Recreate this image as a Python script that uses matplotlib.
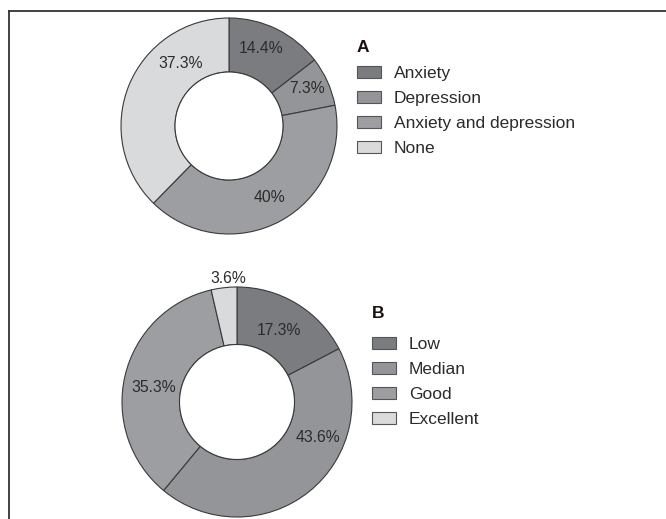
import numpy as np
import matplotlib
matplotlib.use('Agg')
import matplotlib.pyplot as plt
from matplotlib.lines import Line2D

plt.rcParams['font.family'] = ['Liberation Sans', 'DejaVu Sans']

# Panel A
labels_a = ['Anxiety', 'Depression', 'Anxiety and depression', 'None']
values_a = [14.4, 7.3, 40, 37.3]
pct_a = ['14.4%', '7.3%', '40%', '37.3%']

# Panel B
labels_b = ['Low', 'Median', 'Good', 'Excellent']
values_b = [17.3, 43.6, 35.3, 3.6]
pct_b = ['17.3%', '43.6%', '35.3%', '3.6%']

colors = ['#7b7c7f', '#949598', '#9d9ea1', '#d9dadc']
edge = '#3a3a3a'
txt = '#2b2b2b'

W, H = 666, 519
fig = plt.figure(figsize=(W / 100, H / 100), dpi=100)


def px_axes(cx, cy, half):
    return fig.add_axes([(cx - half) / W, (H - cy - half) / H, 2 * half / W, 2 * half / H])


def donut(ax, values, pcts, R, half, label_pos):
    wedges, _ = ax.pie(values, colors=colors, startangle=90, counterclock=False,
                       radius=1, wedgeprops=dict(width=0.5, edgecolor=edge, linewidth=0.8))
    # inner hole outline
    ax.add_patch(plt.Circle((0, 0), 0.5, facecolor='white', edgecolor=edge, linewidth=0.8))
    lim = half / R
    ax.set_xlim(-lim, lim)
    ax.set_ylim(-lim, lim)
    ax.set_aspect('equal')
    ax.axis('off')
    for p, (ang, r) in zip(pcts, label_pos):
        a = np.deg2rad(ang)
        ax.text(r * np.cos(a), r * np.sin(a), p, ha='center', va='center',
                fontsize=11.3, color=txt)
    return wedges


# label placement (angle in degrees, radius relative to outer radius)
pos_a = [(67.7, 0.78), (25.4, 0.8), (-60.6, 0.76), (128, 0.73)]
pos_b = [(59.7, 0.72), (-23.4, 0.77), (170, 0.74), (94, 1.08)]

axA = px_axes(229, 126, 125)
wa = donut(axA, values_a, pct_a, 108, 125, pos_a)
axB = px_axes(237, 402, 125)
wb = donut(axB, values_b, pct_b, 115, 125, pos_b)


def legend(handles, labels, title, x, ty, y):
    fig.text(x / W, 1 - ty / H, title, ha='left', va='center', fontsize=12.5,
             fontweight='bold', color='#1a1010')
    leg = fig.legend(handles, labels, loc='upper left',
                     bbox_to_anchor=(x / W, 1 - y / H), frameon=False,
                     fontsize=12.5, handlelength=1.38, handleheight=0.63,
                     handletextpad=0.75, labelspacing=0.58, borderpad=0,
                     borderaxespad=0)
    for t in leg.get_texts():
        t.set_color(txt)
    for h in leg.legend_handles:
        h.set_edgecolor('#555555')
        h.set_linewidth(0.8)
    return leg


legend(wa, labels_a, 'A', 357, 48, 66)
legend(wb, labels_b, 'B', 372, 313, 337)

# frame lines
fig.add_artist(Line2D([9 / W, 1], [1 - 11 / H, 1 - 11 / H], color='#333333', linewidth=1.3))
fig.add_artist(Line2D([9 / W, 9 / W], [0, 1 - 11 / H], color='#333333', linewidth=1.3))

fig.savefig('out.png', dpi=100)
